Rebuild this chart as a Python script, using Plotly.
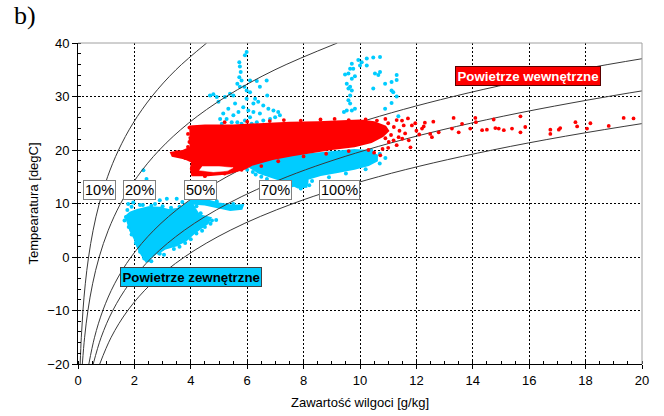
import plotly.graph_objects as go

# ---------------- data ----------------
# relative-humidity curves: temperature [degC] and moisture content [g/kg]
T_CURVE = [-20, -15, -10, -5, 0, 5, 10, 15, 20, 25, 30, 35, 40]
RH10_X = [0.077, 0.117, 0.176, 0.259, 0.375, 0.536, 0.755, 1.049, 1.439, 1.951, 2.618, 3.474, 4.564]
RH20_X = [0.154, 0.235, 0.352, 0.518, 0.751, 1.073, 1.511, 2.101, 2.885, 3.915, 5.256, 6.985, 9.196]
RH50_X = [0.385, 0.587, 0.881, 1.297, 1.882, 2.690, 3.792, 5.279, 7.262, 9.883, 13.31, 17.76, 23.51]
RH70_X = [0.540, 0.822, 1.233, 1.817, 2.637, 3.772, 5.323, 7.416, 10.214, 13.923, 18.80, 25.16, 33.4]
RH100_X = [0.771, 1.177, 1.764, 2.597, 3.775, 5.40, 7.63, 10.65, 14.70, 20.08, 27.2, 36.6, 48.9]

CURVE_LABELS = ["10%", "20%", "50%", "70%", "100%"]
LABEL_X = [0.745, 2.18, 4.33, 7.0, 9.29]
LABEL_Y = [12.6, 12.6, 12.6, 12.6, 12.6]

# indoor air (red) - dense core outline
RED_CORE_X = [3.95, 4.5, 5.5, 6.5, 7.5, 8.5, 9.3, 10.0, 10.5, 10.9, 11.0, 10.8, 10.4, 9.8,
              9.0, 8.4, 7.6, 6.9, 6.2, 5.9, 5.3, 4.6, 4.05, 4.0, 4.05, 3.8, 3.35,
              3.3, 3.7, 4.0, 3.95]
RED_CORE_Y = [24.4, 24.6, 24.6, 24.9, 25.1, 25.2, 25.3, 25.5, 25.2, 24.4, 23.6, 22.6, 21.5, 20.7,
              20.2, 19.7, 19.0, 18.3, 17.3, 16.5, 15.6, 15.3, 15.3, 16.5, 17.8, 18.4, 18.9,
              19.5, 19.8, 20.5, 22.5]
RED_HOLE_X = [4.3, 4.8, 5.3, 5.5, 5.0, 4.4]
RED_HOLE_Y = [16.2, 15.9, 16.1, 16.7, 16.9, 16.9]

# indoor air (red) - scattered measurements
RED_PTS_X = [13.32, 13.62, 14.09, 14.11, 14.74, 14.80, 14.92, 15.10, 15.39, 15.69, 15.69, 15.86,
             16.75, 16.75, 17.05, 17.10, 17.64, 17.70, 18.05, 18.17, 18.82, 19.35, 19.70,
             13.26, 13.50, 13.91, 14.33, 14.50, 12.49, 12.55, 12.79, 12.20, 12.26, 11.84, 11.96,
             11.49, 11.55, 11.73, 11.79, 11.37, 11.19, 11.02, 10.72,
             11.0, 11.2, 11.4, 11.6, 10.9, 11.1, 12.0, 12.3, 11.3, 10.9, 11.7, 12.6, 12.1, 11.5,
             10.9, 11.0, 11.3, 10.3, 10.5, 10.8,
             5.2, 6.0, 6.8, 7.3, 7.9, 8.6, 9.1, 9.6, 10.2, 10.6,
             4.5, 5.2, 5.8, 6.5, 7.1, 8.0, 8.8, 9.6,
             3.5, 3.4, 3.8, 3.9, 3.95, 3.9, 3.95]
RED_PTS_Y = [26.0, 24.9, 26.0, 25.2, 25.7, 24.1, 24.0, 23.7, 24.0, 26.3, 23.3, 24.3,
             23.8, 23.0, 23.8, 24.1, 25.2, 24.4, 24.0, 25.0, 24.5, 26.0, 25.9,
             24.0, 23.3, 24.0, 23.7, 23.8, 23.0, 22.4, 23.3, 24.0, 24.4, 24.6, 25.0,
             25.5, 24.6, 21.8, 20.5, 22.4, 21.8, 21.5, 19.0,
             25.0, 24.3, 23.6, 23.1, 23.5, 22.8, 23.6, 25.1, 25.6, 25.8, 25.9, 25.3, 22.9, 22.1,
             22.2, 20.4, 20.9, 20.0, 19.5, 20.2,
             25.2, 25.3, 25.4, 25.6, 25.5, 25.7, 25.8, 25.6, 25.7, 25.5,
             15.1, 15.6, 16.3, 17.0, 17.9, 18.8, 19.3, 19.8,
             19.6, 19.1, 18.5, 20.6, 21.5, 23.0, 24.2]

# outdoor air (cyan) - dense winter cloud outline
CYAN_WINTER_X = [2.44, 2.25, 2.1, 2.0, 1.85, 1.75, 1.7, 1.85, 2.1, 2.5, 2.9, 3.2, 3.6, 3.8, 4.0,
                 4.15, 4.3, 4.7, 4.6, 4.35, 4.1, 3.85, 3.5, 3.1, 2.8]
CYAN_WINTER_Y = [-1.0, 0.5, 2.0, 3.5, 5.0, 6.5, 7.6, 8.3, 8.8, 9.3, 9.2, 8.8, 9.0, 9.8, 10.4,
                 9.0, 7.8, 7.3, 6.3, 5.4, 4.4, 3.2, 2.2, 1.6, 0.6]
CYAN_STREAK_X = [3.95, 4.5, 5.0, 5.5, 5.85, 5.8, 5.4, 5.0, 4.5, 4.0]
CYAN_STREAK_Y = [10.9, 10.7, 10.0, 9.6, 9.7, 9.0, 8.8, 9.3, 9.8, 10.0]
# outdoor air (cyan) - summer cloud below the indoor points
CYAN_SUMMER_X = [5.9, 6.1, 6.4, 6.9, 7.4, 7.8, 8.1, 8.15, 8.6, 9.2, 9.8, 10.3, 10.6, 10.6,
                 10.3, 9.8, 9.0, 8.0, 7.0, 6.3]
CYAN_SUMMER_Y = [18.0, 16.8, 15.8, 14.9, 14.0, 13.0, 13.1, 14.6, 15.3, 15.9, 16.5, 17.2, 18.0, 19.0,
                 19.8, 20.0, 19.6, 19.0, 18.6, 18.3]

# outdoor air (cyan) - scattered measurements
CYAN_PTS_X = [5.98, 5.92, 5.72, 5.74, 5.77, 5.72, 5.80, 5.90, 5.98, 6.10, 6.34, 6.69, 6.71, 6.45,
              4.68, 4.80, 4.92, 4.98, 5.21, 5.39, 5.51, 5.57, 5.33, 5.15, 5.04, 5.27, 5.51, 5.65,
              5.69, 5.86, 5.98, 6.04, 6.10, 5.92, 6.22, 6.28, 6.39, 6.57, 6.75, 6.93, 7.10, 7.16,
              6.99, 6.81, 6.57, 6.34, 6.16, 5.80, 5.45, 5.10, 6.22, 6.45, 6.10, 5.74, 5.65,
              9.94, 10.06, 10.0, 10.24, 10.47, 10.71, 10.24, 9.71, 9.65, 9.76, 9.47, 9.59, 9.82,
              9.71, 9.53, 9.65, 9.59, 9.71, 9.65, 9.59, 9.65, 9.53, 9.43, 9.71, 9.82, 10.53, 10.65,
              10.71, 10.47, 10.89, 11.12, 11.30, 11.30, 11.12, 11.18, 11.30, 11.12, 10.89, 11.36,
              1.78, 1.96, 2.73, 3.15, 3.50, 1.70, 1.85, 2.0, 2.1, 2.25, 2.5, 2.9, 3.4, 3.8, 4.2,
              4.5, 4.75, 2.32, 2.43, 2.9, 2.3, 4.44, 4.92, 5.51, 5.74,
              1.75, 1.9, 2.2, 2.6, 3.0, 3.3, 3.6, 1.65, 1.8, 1.9, 2.05, 2.2, 2.35, 2.6, 3.05,
              3.6, 4.0, 4.4, 4.7, 4.9, 4.35, 4.2, 3.7,
              6.0, 6.3, 6.7, 7.1, 7.6, 8.3, 8.9, 9.5, 10.2, 10.7, 10.9,
              6.5, 6.2, 7.9, 7.3, 8.2, 8.1, 6.05, 10.4, 10.7]
CYAN_PTS_Y = [38.3, 37.7, 36.4, 35.6, 34.6, 33.6, 33.0, 31.8, 31.1, 30.8, 32.9, 33.0, 30.2, 31.8,
              30.2, 30.4, 29.9, 29.0, 29.9, 30.5, 30.2, 28.7, 27.7, 26.8, 25.8, 25.8, 26.5, 25.2,
              27.1, 28.0, 29.6, 27.4, 26.1, 25.5, 28.7, 29.6, 29.0, 28.3, 27.7, 27.4, 27.1, 26.5,
              26.1, 25.8, 25.5, 25.2, 24.9, 24.9, 25.2, 24.9, 27.1, 26.8, 33.0, 31.8, 32.4,
              36.8, 36.4, 35.8, 37.1, 37.3, 37.4, 35.8, 36.1, 35.2, 35.2, 34.1, 34.3, 33.8,
              33.3, 32.4, 31.8, 31.5, 31.1, 30.2, 29.3, 28.7, 27.4, 27.1, 27.4, 27.7, 34.3, 34.0,
              34.6, 31.5, 32.4, 32.7, 34.0, 33.1, 31.1, 30.8, 30.0, 28.8, 27.7, 26.3,
              9.9, 10.2, 9.9, 10.9, 10.9, 7.5, 6.0, 4.5, 3.0, 1.3, -0.6, 0.6, 1.5, 2.6, 4.4,
              5.6, 6.8, 16.2, 14.6, 10.6, 9.7, 10.9, 10.4, 9.9, 9.3,
              8.8, 9.4, 9.7, 9.6, 9.5, 9.2, 9.4, 6.8, 5.6, 4.2, 2.6, 1.0, -0.3, -0.8, 0.4,
              1.9, 3.3, 4.9, 6.2, 6.9, 8.2, 9.5, 10.3,
              16.3, 15.4, 14.6, 13.9, 13.4, 14.2, 14.9, 15.6, 16.4, 17.5, 18.5,
              15.0, 15.9, 12.8, 13.3, 13.4, 14.0, 17.5, 19.9, 19.3]

RED = "#FF0000"
CYAN = "#00CCFF"

fig = go.Figure()

# cyan clouds
for px, py in [(CYAN_WINTER_X, CYAN_WINTER_Y), (CYAN_STREAK_X, CYAN_STREAK_Y),
               (CYAN_SUMMER_X, CYAN_SUMMER_Y)]:
    fig.add_trace(go.Scatter(x=px, y=py, mode="lines", fill="toself", fillcolor=CYAN,
                             line=dict(color=CYAN, width=2),
                             hoverinfo="skip", showlegend=False))
fig.add_trace(go.Scatter(x=CYAN_PTS_X, y=CYAN_PTS_Y, mode="markers",
                         marker=dict(color=CYAN, size=4, line=dict(width=0)),
                         showlegend=False))

# RH curves
for cx in [RH10_X, RH20_X, RH50_X, RH70_X, RH100_X]:
    fig.add_trace(go.Scatter(x=cx, y=T_CURVE, mode="lines",
                             line=dict(color="#3a3a3a", width=1, shape="spline"),
                             hoverinfo="skip", showlegend=False))

# red clouds
fig.add_trace(go.Scatter(x=RED_CORE_X, y=RED_CORE_Y, mode="lines", fill="toself", fillcolor=RED,
                         line=dict(color=RED, width=2),
                         hoverinfo="skip", showlegend=False))
fig.add_trace(go.Scatter(x=RED_HOLE_X, y=RED_HOLE_Y, mode="lines", fill="toself", fillcolor="white",
                         line=dict(color="white", width=0.5),
                         hoverinfo="skip", showlegend=False))
fig.add_trace(go.Scatter(x=RED_PTS_X, y=RED_PTS_Y, mode="markers",
                         marker=dict(color=RED, size=3.8, line=dict(width=0)),
                         showlegend=False))

annotations = []
for lx, ly, lt in zip(LABEL_X, LABEL_Y, CURVE_LABELS):
    annotations.append(dict(x=lx, y=ly, xref="x", yref="y", text=lt, showarrow=False,
                            font=dict(family="Liberation Sans, Arial", size=14.5, color="black"),
                            bgcolor="white", bordercolor="#808080", borderwidth=1, borderpad=1))
annotations.append(dict(x=15.94, y=33.8, xref="x", yref="y", text="<b>Powietrze wewnętrzne</b>",
                        showarrow=False,
                        font=dict(family="Liberation Sans, Arial", size=13.3, color="white"),
                        bgcolor=RED, bordercolor="#5a0000", borderwidth=1, borderpad=1.5))
annotations.append(dict(x=3.99, y=-3.8, xref="x", yref="y", text="<b>Powietrze zewnętrzne</b>",
                        showarrow=False,
                        font=dict(family="Liberation Sans, Arial", size=13.3, color="black"),
                        bgcolor=CYAN, bordercolor="#404040", borderwidth=1, borderpad=1.5))
annotations.append(dict(x=-0.117, y=1.138, xref="paper", yref="paper", text="b)", showarrow=False,
                        xanchor="left", yanchor="top",
                        font=dict(family="Liberation Serif, Times New Roman", size=26, color="black")))

axis_font = dict(family="Liberation Sans, Arial", size=13, color="black")
fig.update_layout(
    width=664, height=416,
    margin=dict(l=78, r=22, t=43, b=52),
    paper_bgcolor="white", plot_bgcolor="white",
    font=axis_font,
    showlegend=False,
    annotations=annotations,
    shapes=[
        dict(type="line", xref="paper", yref="paper", x0=0, x1=1, y0=1, y1=1,
             line=dict(color="#a0a0a0", width=1)),
        dict(type="line", xref="paper", yref="paper", x0=1, x1=1, y0=0, y1=1,
             line=dict(color="#a0a0a0", width=1)),
    ],
    xaxis=dict(range=[0, 20], dtick=2, tick0=0, showgrid=True, gridcolor="black", gridwidth=1,
               griddash="2px,2px", zeroline=False, showline=True, linecolor="black", linewidth=1,
               ticks="outside", ticklen=4, tickcolor="black", tickfont=axis_font, automargin=False,
               minor=dict(dtick=0.5, ticks="inside", ticklen=3, tickcolor="black", showgrid=False),
               title=dict(text="Zawartość wilgoci [g/kg]", font=axis_font, standoff=11)),
    yaxis=dict(range=[-20, 40], dtick=10, tick0=0, showgrid=True, gridcolor="black", gridwidth=1,
               griddash="2px,2px", zeroline=False, showline=True, linecolor="black", linewidth=1,
               ticks="outside", ticklen=5, tickcolor="black", tickfont=axis_font, automargin=False,
               minor=dict(dtick=2, ticks="inside", ticklen=3, tickcolor="black", showgrid=False),
               title=dict(text="Tempearatura [degC]", font=axis_font, standoff=5)),
)

fig.write_html("out.html")
